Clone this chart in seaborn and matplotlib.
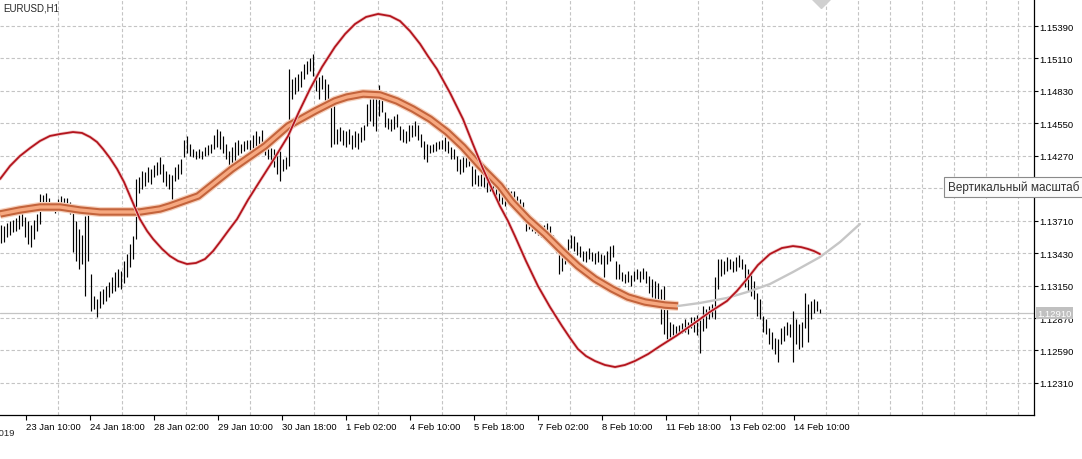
import numpy as np
import pandas as pd
import seaborn as sns
import matplotlib
matplotlib.use("Agg")
import matplotlib.pyplot as plt
from matplotlib.transforms import blended_transform_factory

# hourly bars EURUSD,H1 (high / low), one per bar
bar_high = [
    1.1367, 1.1366, 1.1369, 1.1371, 1.1372, 1.1373, 1.1376, 1.1378, 1.1374, 1.1371,
    1.1367, 1.1372, 1.1377, 1.1394, 1.1393, 1.1395, 1.1391, 1.1385, 1.1385, 1.1390,
    1.1392, 1.1391, 1.1391, 1.1387, 1.1381, 1.1371, 1.1364, 1.1359, 1.1375, 1.1377,
    1.1325, 1.1306, 1.1303, 1.1310, 1.1312, 1.1315, 1.1318, 1.1322, 1.1327, 1.1329,
    1.1328, 1.1336, 1.1342, 1.1351, 1.1358, 1.1407, 1.1409, 1.1414, 1.1413, 1.1417,
    1.1416, 1.1419, 1.1422, 1.1426, 1.1420, 1.1414, 1.1411, 1.1410, 1.1417, 1.1420,
    1.1424, 1.1441, 1.1444, 1.1437, 1.1433, 1.1431, 1.1433, 1.1431, 1.1435, 1.1436,
    1.1437, 1.1445, 1.1450, 1.1448, 1.1444, 1.1437, 1.1431, 1.1435, 1.1439, 1.1441,
    1.1437, 1.1440, 1.1441, 1.1441, 1.1445, 1.1448, 1.1444, 1.1449, 1.1441, 1.1435,
    1.1434, 1.1433, 1.1429, 1.1431, 1.1424, 1.1426, 1.1502, 1.1493, 1.1495, 1.1498,
    1.1500, 1.1506, 1.1509, 1.1511, 1.1515, 1.1498, 1.1495, 1.1497, 1.1493, 1.1489,
    1.1472, 1.1476, 1.1450, 1.1452, 1.1449, 1.1448, 1.1450, 1.1445, 1.1448, 1.1447,
    1.1452, 1.1454, 1.1472, 1.1476, 1.1478, 1.1482, 1.1488, 1.1476, 1.1465, 1.1460,
    1.1459, 1.1461, 1.1463, 1.1453, 1.1450, 1.1448, 1.1454, 1.1454, 1.1457, 1.1454,
    1.1446, 1.1440, 1.1437, 1.1436, 1.1437, 1.1439, 1.1440, 1.1441, 1.1443, 1.1440,
    1.1435, 1.1433, 1.1427, 1.1424, 1.1426, 1.1431, 1.1433, 1.1418, 1.1416, 1.1410,
    1.1411, 1.1410, 1.1407, 1.1405, 1.1404, 1.1403, 1.1402, 1.1400, 1.1398, 1.1399,
    1.1397, 1.1397, 1.1392, 1.1390, 1.1387, 1.1372, 1.1371, 1.1369, 1.1367, 1.1368,
    1.1366, 1.1367, 1.1369, 1.1366, 1.1359, 1.1355, 1.1349, 1.1347, 1.1347, 1.1355,
    1.1359, 1.1358, 1.1353, 1.1349, 1.1345, 1.1345, 1.1347, 1.1344, 1.1343, 1.1345,
    1.1342, 1.1341, 1.1345, 1.1349, 1.1350, 1.1336, 1.1334, 1.1327, 1.1325, 1.1328,
    1.1324, 1.1328, 1.1329, 1.1328, 1.1330, 1.1328, 1.1323, 1.1321, 1.1319, 1.1317,
    1.1312, 1.1315, 1.1295, 1.1284, 1.1282, 1.1280, 1.1281, 1.1283, 1.1286, 1.1284,
    1.1288, 1.1288, 1.1290, 1.1286, 1.1297, 1.1295, 1.1297, 1.1299, 1.1322, 1.1338,
    1.1338, 1.1336, 1.1340, 1.1338, 1.1336, 1.1340, 1.1341, 1.1338, 1.1334, 1.1329,
    1.1325, 1.1319, 1.1309, 1.1303, 1.1289, 1.1286, 1.1278, 1.1275, 1.1270, 1.1269,
    1.1278, 1.1280, 1.1284, 1.1282, 1.1293, 1.1286, 1.1282, 1.1284, 1.1309, 1.1299,
    1.1302, 1.1303, 1.1302, 1.1295,
]
bar_low = [
    1.1352, 1.1353, 1.1357, 1.1359, 1.1361, 1.1362, 1.1364, 1.1366, 1.1357, 1.1351,
    1.1348, 1.1355, 1.1362, 1.1368, 1.1383, 1.1385, 1.1381, 1.1379, 1.1378, 1.1381,
    1.1383, 1.1382, 1.1381, 1.1377, 1.1344, 1.1336, 1.1329, 1.1334, 1.1306, 1.1336,
    1.1293, 1.1295, 1.1288, 1.1296, 1.1299, 1.1302, 1.1305, 1.1309, 1.1310, 1.1314,
    1.1312, 1.1317, 1.1322, 1.1331, 1.1338, 1.1355, 1.1395, 1.1398, 1.1401, 1.1404,
    1.1403, 1.1409, 1.1410, 1.1411, 1.1404, 1.1401, 1.1398, 1.1390, 1.1405, 1.1407,
    1.1411, 1.1426, 1.1429, 1.1427, 1.1426, 1.1424, 1.1425, 1.1424, 1.1427, 1.1428,
    1.1429, 1.1433, 1.1435, 1.1433, 1.1429, 1.1424, 1.1414, 1.1417, 1.1420, 1.1428,
    1.1429, 1.1431, 1.1433, 1.1430, 1.1433, 1.1435, 1.1433, 1.1431, 1.1428, 1.1424,
    1.1422, 1.1417, 1.1411, 1.1405, 1.1414, 1.1416, 1.1418, 1.1476, 1.1480, 1.1483,
    1.1486, 1.1493, 1.1498, 1.1500, 1.1496, 1.1483, 1.1476, 1.1485, 1.1472, 1.1476,
    1.1435, 1.1437, 1.1437, 1.1440, 1.1436, 1.1435, 1.1437, 1.1433, 1.1435, 1.1433,
    1.1439, 1.1441, 1.1453, 1.1457, 1.1453, 1.1448, 1.1461, 1.1465, 1.1452, 1.1450,
    1.1448, 1.1450, 1.1452, 1.1441, 1.1439, 1.1438, 1.1440, 1.1443, 1.1444, 1.1441,
    1.1435, 1.1424, 1.1422, 1.1429, 1.1430, 1.1431, 1.1433, 1.1433, 1.1431, 1.1429,
    1.1424, 1.1424, 1.1414, 1.1411, 1.1413, 1.1417, 1.1418, 1.1401, 1.1403, 1.1401,
    1.1401, 1.1400, 1.1396, 1.1397, 1.1394, 1.1392, 1.1387, 1.1385, 1.1384, 1.1385,
    1.1383, 1.1381, 1.1379, 1.1377, 1.1374, 1.1362, 1.1364, 1.1362, 1.1360, 1.1359,
    1.1357, 1.1355, 1.1357, 1.1353, 1.1347, 1.1344, 1.1325, 1.1328, 1.1334, 1.1340,
    1.1347, 1.1345, 1.1341, 1.1340, 1.1336, 1.1335, 1.1338, 1.1336, 1.1334, 1.1335,
    1.1334, 1.1322, 1.1334, 1.1336, 1.1340, 1.1321, 1.1321, 1.1319, 1.1317, 1.1318,
    1.1315, 1.1319, 1.1321, 1.1318, 1.1321, 1.1317, 1.1309, 1.1305, 1.1303, 1.1302,
    1.1282, 1.1273, 1.1269, 1.1271, 1.1272, 1.1273, 1.1273, 1.1274, 1.1275, 1.1273,
    1.1278, 1.1275, 1.1272, 1.1257, 1.1276, 1.1278, 1.1286, 1.1288, 1.1286, 1.1312,
    1.1323, 1.1325, 1.1328, 1.1329, 1.1327, 1.1328, 1.1331, 1.1329, 1.1314, 1.1310,
    1.1306, 1.1303, 1.1289, 1.1286, 1.1275, 1.1273, 1.1265, 1.1260, 1.1256, 1.1249,
    1.1265, 1.1267, 1.1272, 1.1271, 1.1249, 1.1265, 1.1260, 1.1262, 1.1278, 1.1266,
    1.1286, 1.1291, 1.1293, 1.1291,
]

# red cycle curve (bar index, price)
red_x = [-0.3, 3, 6.3, 9.7, 13, 16.3, 19.7, 24, 27, 29.7,
         32, 34, 36.3, 38.7, 41, 43, 46.3, 48.7, 50.7, 53.7,
         56.3, 59, 62, 65, 68, 70.7, 73, 75.7, 78.7, 82.3,
         86.3, 91, 95.7, 99.3, 103, 107, 111.3, 114.7, 118, 121.7,
         125.7, 129.7, 133, 136.3, 139.7, 142.3, 145.3, 149.7, 154, 157.3,
         160.7, 163.7, 166.3, 169, 171.3, 175, 179, 183, 187, 189.7,
         192.3, 195, 198, 201.3, 204.7, 208, 211.3, 215.7, 219.7, 225,
         230.7, 236.3, 242, 245.3, 248.7, 252.3, 256.3, 260.3, 264, 266.7,
         269, 271, 273]
red_y = [1.14070, 1.14182, 1.14268, 1.14337, 1.14398, 1.14441, 1.14458, 1.14475, 1.14467, 1.14432,
         1.14389, 1.14329, 1.14251, 1.14156, 1.14044, 1.13923, 1.13724, 1.13621, 1.13552, 1.13466,
         1.13405, 1.13362, 1.13336, 1.13345, 1.13379, 1.13448, 1.13526, 1.13621, 1.13724, 1.13888,
         1.14052, 1.14242, 1.14441, 1.14648, 1.14846, 1.15036, 1.15209, 1.15321, 1.15407, 1.15468,
         1.15494, 1.15476, 1.15433, 1.15347, 1.15235, 1.15131, 1.15019, 1.14812, 1.14587, 1.14372,
         1.14156, 1.13983, 1.13837, 1.13707, 1.13578, 1.13362, 1.13146, 1.12965, 1.12801, 1.12697,
         1.12603, 1.12542, 1.12499, 1.12465, 1.12447, 1.12465, 1.12499, 1.12559, 1.12628, 1.12715,
         1.12818, 1.12922, 1.13017, 1.13103, 1.13207, 1.13327, 1.13422, 1.13474, 1.13491, 1.13482,
         1.13466, 1.13448, 1.13422]

# smoothed orange line
ma_x = [-0.3, 6.3, 13, 19.7, 26.3, 33, 39.7, 46.3, 53, 56.3, 65.7, 77, 88, 95.7,
        104.7, 111.3, 115.3, 120.7, 126.3, 132, 137.3, 143, 148.7, 154, 159.7, 166.3,
        170.3, 175.7, 181.3, 187, 192.3, 198, 203.7, 209, 214.7, 221.3, 225.7]
ma_y = [1.13768, 1.13802, 1.13828, 1.13828, 1.13802, 1.13785, 1.13785, 1.13785,
        1.13811, 1.13837, 1.13923, 1.14156, 1.14354, 1.14527, 1.14656, 1.14743,
        1.14777, 1.14803, 1.14795, 1.14743, 1.14674, 1.14587, 1.14475, 1.14346,
        1.14182, 1.14010, 1.13872, 1.13724, 1.13595, 1.13448, 1.13319, 1.13207,
        1.13120, 1.13051, 1.13008, 1.12982, 1.12974]

# grey forecast extension
ext_x = [225.7, 233, 242, 248.7, 256.3, 264, 273, 279.7, 286.3]
ext_y = [1.12974, 1.13000, 1.13043, 1.13094, 1.13163, 1.13267, 1.13396, 1.13526, 1.13681]

price_ticks = [1.12310, 1.12590, 1.12870, 1.13150, 1.13430, 1.13710, 1.13990,
               1.14270, 1.14550, 1.14830, 1.15110, 1.15390]
hidden_tick = 1.13990  # sits under the tooltip
time_labels = ["23 Jan 10:00", "24 Jan 18:00", "28 Jan 02:00", "29 Jan 10:00",
               "30 Jan 18:00", "1 Feb 02:00", "4 Feb 10:00", "5 Feb 18:00",
               "7 Feb 02:00", "8 Feb 10:00", "11 Feb 18:00", "13 Feb 02:00",
               "14 Feb 10:00"]
first_label = "22 Jan 2019"
last_price = 1.12910

sns.set_theme(style="white")
plt.rcParams['font.family'] = ['Liberation Sans', 'DejaVu Sans']

fig = plt.figure(figsize=(10.82, 4.6), dpi=100)
ax = fig.add_axes([0, 0.0946, 0.9556, 0.9054])

bars = pd.DataFrame({"high": bar_high, "low": bar_low})
bars["i"] = np.arange(len(bars))
ax.vlines(bars["i"], bars["low"], bars["high"], color="black", lw=0.85, zorder=3)

ax.axhline(last_price, color="#c4c4c4", lw=0.9, zorder=2)

# orange smoothed line: glow, border, core
for lw, col in [(7.2, "#f6d2bf"), (5.4, "#c4643c"), (2.4, "#f6a880")]:
    sns.lineplot(x=ma_x, y=ma_y, sort=False, estimator=None, color=col, lw=lw,
                 ax=ax, legend=False, zorder=4, solid_capstyle="butt")
sns.lineplot(x=ext_x, y=ext_y, sort=False, estimator=None, color="#c6c6c6", lw=1.7,
             ax=ax, legend=False, zorder=4)
sns.lineplot(x=red_x, y=red_y, sort=False, estimator=None, color="#f2c8c8", lw=2.4,
             ax=ax, legend=False, zorder=5)
sns.lineplot(x=red_x, y=red_y, sort=False, estimator=None, color="#b3141d", lw=1.3,
             ax=ax, legend=False, zorder=5)

# axis layout: bars 3 px apart, labels every 64 px
step = 64 / 3
tick_pos = 25 / 3 + step * np.arange(len(time_labels))
grid_pos = 25 / 3 + step / 2 * np.arange(32)
ax.set_xlim(-1 / 3, 1033 / 3)
ax.set_ylim(1.12029, 1.15623)

ax.set_xticks(tick_pos, time_labels)
for lab in ax.get_xticklabels():
    lab.set_ha("left")
ax.set_xticks(grid_pos, minor=True)
ax.yaxis.tick_right()
ax.set_yticks(price_ticks, ["" if p == hidden_tick else f"{p:.5f}" for p in price_ticks])

ax.tick_params(axis="x", which="major", bottom=True, length=3.5, width=0.8,
               labelsize=6.8, pad=1, colors="black")
ax.tick_params(axis="x", which="minor", bottom=True, length=0)
ax.tick_params(axis="y", right=True, left=False, length=3, width=0.8,
               labelsize=6.8, pad=0.8, colors="black")

ax.grid(False)
grid_kw = dict(color="#c4c4c4", lw=0.8, linestyle=(0, (3, 2)))
ax.xaxis.grid(True, which="minor", **grid_kw)
ax.yaxis.grid(True, which="major", **grid_kw)
ax.set_axisbelow(True)

for side in ["left", "top"]:
    ax.spines[side].set_visible(False)
for side in ["right", "bottom"]:
    ax.spines[side].set_color("black")
    ax.spines[side].set_linewidth(0.9)

ax.text(-13, -0.03, first_label, transform=blended_transform_factory(ax.transData, ax.transAxes),
        fontsize=6.8, va="top", ha="left", clip_on=False)

ax.text(0.003, 0.992, "EURUSD,H1", transform=ax.transAxes, fontsize=7, va="top", ha="left")

# last price label on the price scale
ax.text(1.003, last_price, f"{last_price:.5f}",
        transform=blended_transform_factory(ax.transAxes, ax.transData),
        fontsize=6.8, color="white", va="center", ha="left", clip_on=False, zorder=10,
        bbox=dict(boxstyle="square,pad=0.15", fc="#c0c0c0", ec="none"))

# chart shift marker at the top
ax.plot([0.794], [1.0], marker="D", ms=9, color="#d0d0d0", transform=ax.transAxes,
        clip_on=False, zorder=6)

# tooltip
fig.text(948 / 1082, 1 - 188 / 460, "Вертикальный масштаб", fontsize=8.5,
         va="center", ha="left", color="#303030", zorder=20,
         bbox=dict(boxstyle="square,pad=0.3", fc="#fbfbfb", ec="#8a8a8a", lw=0.8))

fig.savefig("out.png", dpi=100)
